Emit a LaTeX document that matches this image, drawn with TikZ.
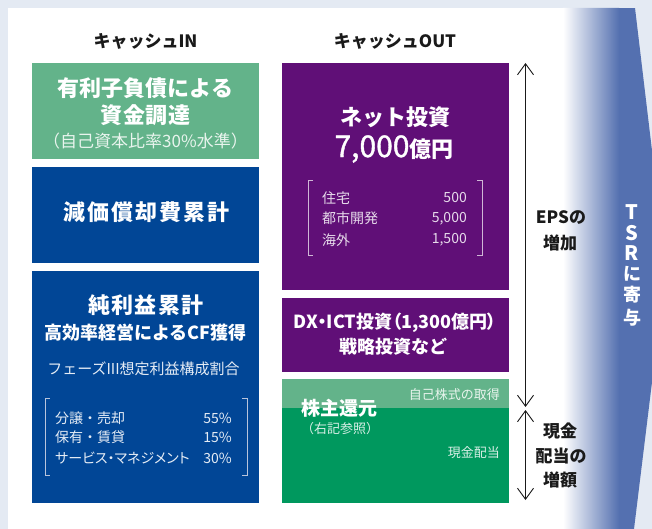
\documentclass[tikz,border=0pt]{standalone}
\usepackage{fontspec}
\setmainfont{Noto Sans CJK JP}
\usetikzlibrary{arrows.meta}
\definecolor{bgc}{HTML}{E4EAF3}
\definecolor{lgreen}{HTML}{63B38A}
\definecolor{dgreen}{HTML}{00985E}
\definecolor{nblue}{HTML}{014696}
\definecolor{purp}{HTML}{600F77}
\definecolor{tsrblue}{HTML}{5470B0}
\definecolor{ink}{HTML}{1A1A1A}
\definecolor{brk}{HTML}{B8C4DC}
\newcommand{\fs}[1]{\fontsize{#1}{#1}\selectfont}
\newcommand{\pal}{\addfontfeature{RawFeature=+palt}}
\newcommand{\lsp}[1]{\addfontfeature{LetterSpace=#1}}
\tikzset{
  box/.style={draw=none, anchor=north west, inner sep=0pt, minimum width=227pt},
  txt/.style={inner sep=0pt, text=white},
  head/.style={inner sep=0pt, text=ink, font=\fs{17}\bfseries},
  side/.style={inner sep=0pt, text=ink, font=\fs{17}\bfseries},
  big/.style={font=\fs{22}\bfseries},
  mid/.style={font=\fs{18}\bfseries},
  small/.style={font=\fs{14}},
  bracket/.style={draw=brk, line width=0.8pt},
  dbl/.style={draw=ink, line width=0.9pt, {Straight Barb[length=11pt,width=16pt]}-{Straight Barb[length=11pt,width=16pt]}},
}
\begin{document}
\begin{tikzpicture}[x=1pt,y=-1pt]
\useasboundingbox (0,0) rectangle (652,529);
\fill[bgc] (0,0) rectangle (652,529);
\fill[white] (8,8) rectangle (600,529);
\begin{scope}
  \clip (555,8) -- (635,8) -- (666,268) -- (634,529) -- (555,529) -- cycle;
  \shade[left color=white, right color=tsrblue] (563,8) rectangle (619,529);
  \fill[tsrblue] (618.5,8) rectangle (670,529);
\end{scope}

% headers
\node[head] (hin) at (145.5,41) {キャッシュIN};
\node[head] (hout) at (395,41) {キャッシュOUT};

% left column
\node[box, fill=lgreen, minimum height=96pt] (b1) at (32,63) {};
\node[txt, big] (b1a) at (145.5,88) {有利子負債による};
\node[txt, big] (b1b) at (145.5,115) {\lsp{4}資金調達};
\node[txt, font=\fs{17}, text=white!85!lgreen] (b1c) at (145.5,141) {（自己資本比率30\%水準）};

\node[box, fill=nblue, minimum height=96pt] (b2) at (32,167) {};
\node[txt, font=\fs{22}\bfseries\lsp{9}] (b2a) at (146.5,212.5) {減価償却費累計};

\node[box, fill=nblue, minimum height=232pt] (b3) at (32,271) {};
\node[txt, font=\fs{22}\bfseries\lsp{6}] (b3a) at (146,305) {純利益累計};
\node[txt, mid] (b3b) at (145.5,333) {高効率経営によるCF獲得};
\node[txt, font=\fs{15}, text=white!90!nblue] (b3c) at (143.5,368.5) {フェーズIII想定利益構成割合};
\node[txt, small, anchor=west, text=white!90!nblue] (l1) at (55,418) {分譲・売却};
\node[txt, small, anchor=west, text=white!90!nblue] (l2) at (55,437) {保有・賃貸};
\node[txt, font=\fs{14}\pal, anchor=west, text=white!90!nblue] (l3) at (55,458) {サービス・マネジメント};
\node[txt, small, anchor=east, text=white!90!nblue] (r1) at (232,418) {55\%};
\node[txt, small, anchor=east, text=white!90!nblue] (r2) at (232,437) {15\%};
\node[txt, small, anchor=east, text=white!90!nblue] (r3) at (232,458) {30\%};
\draw[bracket] (50,398) -- (45,398) -- (45,475) -- (50,475);
\draw[bracket] (242,398) -- (247,398) -- (247,475) -- (242,475);

% right column
\node[box, fill=purp, minimum height=227pt] (p1) at (282,63) {};
\node[txt, big] (p1a) at (395.5,117) {ネット投資};
\node[txt] (p1b) at (394,149) {{\fs{30}\addfontfeature{FakeBold=1.2}7,000}{\fs{22}\bfseries 億円}};
\node[txt, small, anchor=west, text=white!85!purp] (pl1) at (322,198) {住宅};
\node[txt, small, anchor=west, text=white!85!purp] (pl2) at (322,218.5) {都市開発};
\node[txt, small, anchor=west, text=white!85!purp] (pl3) at (322,240) {海外};
\node[txt, small, anchor=east, text=white!85!purp] (pr1) at (467,198) {500};
\node[txt, small, anchor=east, text=white!85!purp] (pr2) at (467,218.5) {5,000};
\node[txt, small, anchor=east, text=white!85!purp] (pr3) at (467,240) {1,500};
\draw[bracket, draw=white!70!purp] (313,180) -- (308,180) -- (308,255) -- (313,255);
\draw[bracket, draw=white!70!purp] (477,180) -- (482,180) -- (482,255) -- (477,255);

\node[box, fill=purp, minimum height=74pt] (p2) at (282,298) {};
\node[txt, font=\fs{18}\bfseries\pal] (p2a) at (395,323) {DX・ICT投資（1,300億円）};
\node[txt, mid] (p2b) at (393,347) {戦略投資など};

\node[box, fill=dgreen, minimum height=124pt] (g1) at (282,379) {};
\node[box, fill=lgreen, minimum height=29pt] (g0) at (282,379) {};
\node[txt, font=\fs{13}, anchor=east, text=white!85!lgreen] (g0a) at (500,395) {自己株式の取得};
\node[txt, font=\fs{19}\bfseries, anchor=west] (g1a) at (301,408.5) {株主還元};
\node[txt, font=\fs{13}, text=white!85!dgreen] (g1b) at (340,429) {（右記参照）};
\node[txt, font=\fs{13}, anchor=east, text=white!85!dgreen] (g1c) at (500,453) {現金配当};

% arrows
\coordinate (a1) at (525.5,63);
\coordinate (a2) at (525.5,407);
\coordinate (a3) at (525.5,410);
\coordinate (a4) at (525.5,500);
\draw[dbl] (a1) -- (a2);
\draw[dbl] (a3) -- (a4);

\node[side] (e1) at (561,218) {EPSの};
\node[side] (e2) at (560,243) {増加};
\node[side] (c1) at (560,431) {現金};
\node[side] (c2) at (561,456) {配当の};
\node[side] (c3) at (560,480) {増額};

% TSR
\node[txt, font=\fs{20}\bfseries] (t1) at (632,212) {T};
\node[txt, font=\fs{20}\bfseries] (t2) at (632,233) {S};
\node[txt, font=\fs{20}\bfseries] (t3) at (632,253) {R};
\node[txt, font=\fs{18}\bfseries] (t4) at (632,273.5) {に};
\node[txt, font=\fs{18}\bfseries] (t5) at (632,295) {寄};
\node[txt, font=\fs{18}\bfseries] (t6) at (632,318) {与};
\end{tikzpicture}
\end{document}
